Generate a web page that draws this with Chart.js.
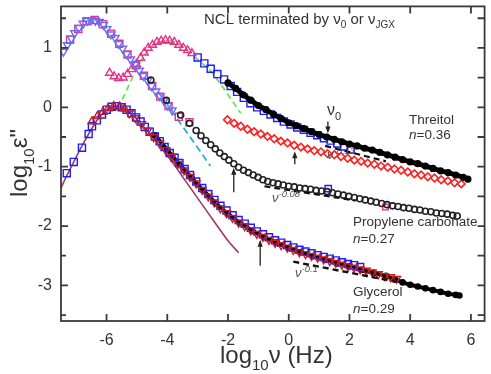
<!DOCTYPE html>
<html><head><meta charset="utf-8">
<script src="https://cdn.jsdelivr.net/npm/chart.js@4.4.1/dist/chart.umd.min.js"></script>
<style>html,body{margin:0;padding:0;background:#fff}canvas{display:block}</style>
</head><body>
<canvas id="c" width="491" height="374"></canvas>
<script>
// ---------- tick values ----------
const xTicks = [-6,-4,-2,0,2,4,6];
const yTicks = [-3.5,-3,-2.5,-2,-1.5,-1,-0.5,0,0.5,1,1.5];

// ---------- Propylene carbonate ----------
const pcTriX = [-7.42,-7.29,-7.16,-7.05,-6.91,-6.77,-6.64,-6.51,-6.37,-6.24,-6.10,-5.99,-5.86,-5.72,-5.60,-5.47,-5.34,-5.21,-5.07,-4.92,-4.79,-4.65,-4.52,-4.38,-4.25,-4.11,-3.98,-3.84];
const pcTriY = [0.94,1.05,1.16,1.25,1.34,1.41,1.46,1.47,1.46,1.44,1.39,1.32,1.23,1.17,1.07,0.99,0.90,0.81,0.72,0.62,0.53,0.45,0.36,0.27,0.19,0.11,0.03,-0.05];
const pcSqX = [-7.20,-6.93,-6.66,-6.39,-6.12,-5.85,-5.58,-5.31,-5.04,-4.77,-4.50,-4.23,-3.96,-3.62,-3.27];
const pcSqY = [1.14,1.32,1.45,1.47,1.40,1.24,1.07,0.89,0.71,0.53,0.36,0.18,0.02,-0.16,-0.25];
const pcCircX = [-4.54,-4.03,-3.56,-3.27,-3.05,-2.89,-2.73,-2.57,-2.42,-2.27,-2.12,-1.97,-1.81,-1.65,-1.49,-1.33,-1.17,-1.01,-0.85,-0.69,-0.52,-0.35,-0.18,
  0.00,0.18,0.36,0.54,0.72,0.90,1.08,1.26,1.44,1.62,1.80,1.98,2.16,2.34,2.52,2.70,2.88,3.06,3.24,3.42,3.60,3.78,3.96,4.14,4.32,4.50,4.68,4.86,5.04,5.22,5.40,5.55];
const pcCircY = [0.46,0.12,-0.13,-0.27,-0.39,-0.48,-0.56,-0.63,-0.70,-0.77,-0.83,-0.89,-0.95,-1.01,-1.06,-1.10,-1.14,-1.18,-1.22,-1.25,-1.27,-1.29,-1.31,
  -1.33,-1.34,-1.36,-1.37,-1.38,-1.40,-1.41,-1.42,-1.44,-1.46,-1.48,-1.50,-1.52,-1.54,-1.56,-1.58,-1.60,-1.62,-1.64,-1.66,-1.67,-1.69,-1.70,-1.72,-1.73,-1.75,-1.76,-1.78,-1.79,-1.80,-1.82,-1.83];
const pcFitX = [-4.30,-4.00,-3.61,-3.00,-2.58];
const pcFitY = [0.26,0.05,-0.24,-0.68,-0.99];
const pcBlueX = [1.30], pcBlueY = [-1.37];
const pcPinkX = [3.19], pcPinkY = [-1.68];

// ---------- Threitol ----------
const thrTriX = [-5.90,-5.75,-5.60,-5.45,-5.31,-5.17,-5.02,-4.88,-4.76,-4.63,-4.49,-4.34,-4.20,-4.06,-3.92,-3.77,-3.62,-3.47,-3.33,-3.19];
const thrTriY = [0.58,0.52,0.49,0.50,0.56,0.64,0.73,0.83,0.92,1.00,1.05,1.10,1.12,1.13,1.12,1.10,1.05,1.00,0.96,0.91];
const thrSqX = [-3.00,-2.78,-2.57,-2.35,-2.13,-1.91,-1.70,-1.48,-1.26,-1.04,-0.82,-0.60,-0.38,-0.16,0.06,0.28,0.50,0.72,0.94,1.16,1.38,1.60,1.82,2.04];
const thrSqY = [0.84,0.74,0.65,0.56,0.47,0.36,0.26,0.16,0.07,0.00,-0.06,-0.12,-0.18,-0.24,-0.29,-0.34,-0.38,-0.43,-0.47,-0.52,-0.56,-0.61,-0.66,-0.71];
const thrDotX = [-2.00,-1.75,-1.50,-1.25,-1.00,-0.75,-0.50,-0.25,0.00,0.25,0.50,0.75,1.00,1.25,1.50,1.75,2.00,2.25,2.50,2.75,3.00,3.25,3.50,3.75,4.00,4.25,4.50,4.75,5.00,5.25,5.50,5.75,5.90];
const thrDotY = [0.41,0.32,0.21,0.12,0.03,-0.04,-0.12,-0.19,-0.26,-0.31,-0.36,-0.41,-0.46,-0.50,-0.54,-0.58,-0.62,-0.65,-0.69,-0.72,-0.76,-0.80,-0.84,-0.88,-0.92,-0.95,-0.99,-1.03,-1.07,-1.10,-1.14,-1.18,-1.21];
const thrFitX = [-5.62,-5.30,-5.00,-4.75,-4.50,-4.25,-4.00,-3.75,-3.50,-3.20,-2.90,-2.57,-2.30,-2.02,-1.58];
const thrFitY = [-0.02,0.33,0.66,0.88,1.03,1.10,1.13,1.10,1.02,0.89,0.76,0.61,0.43,0.23,-0.10];
const dmX = [-2.02,-1.80,-1.58,-1.36,-1.14,-0.92,-0.70,-0.48,-0.26,-0.04,0.18,0.40,0.62,0.84,1.06,1.28,1.50,1.72,1.94,2.16,2.38,2.60,2.82,3.04,3.26,3.48,3.70,3.92,4.14,4.36,4.58,4.80,5.02,5.24,5.46,5.68];
const dmY = [-0.21,-0.27,-0.32,-0.37,-0.41,-0.45,-0.49,-0.53,-0.57,-0.60,-0.64,-0.67,-0.70,-0.73,-0.75,-0.78,-0.80,-0.83,-0.86,-0.89,-0.91,-0.94,-0.96,-0.99,-1.01,-1.04,-1.06,-1.09,-1.12,-1.14,-1.17,-1.19,-1.22,-1.24,-1.27,-1.29];

// ---------- Glycerol ----------
const glySqX = [-7.31,-7.08,-6.81,-6.59,-6.48,-6.32,-6.15,-5.99,-5.83,-5.66,-5.50,-5.34,-5.18,-5.03,-4.88,-4.74,-4.58,-4.41,-4.25,-4.09,-3.92,-3.76,-3.60,-3.43,
  -3.25,-3.05,-2.85,-2.65,-2.45,-2.25,-2.05,-1.85,-1.65,-1.45,-1.25,-1.05,-0.85,-0.65,-0.45,-0.25,-0.05,0.15,0.35,0.55,0.75,0.95,1.15,1.35,1.55,1.75,1.95,2.15,2.35];
const glySqY = [-1.11,-0.92,-0.68,-0.45,-0.32,-0.22,-0.12,-0.04,0.01,0.02,0.00,-0.04,-0.10,-0.17,-0.24,-0.33,-0.41,-0.49,-0.57,-0.67,-0.77,-0.85,-0.94,-1.04,
  -1.14,-1.25,-1.36,-1.46,-1.56,-1.66,-1.74,-1.82,-1.90,-1.96,-2.03,-2.09,-2.14,-2.19,-2.24,-2.28,-2.32,-2.36,-2.40,-2.43,-2.46,-2.49,-2.52,-2.55,-2.58,-2.61,-2.64,-2.66,-2.69];
const glyUpX = [-6.48,-6.30,-6.12,-5.95,-5.76,-5.57,-5.41];
const glyUpY = [-0.24,-0.15,-0.08,-0.02,0.02,0.01,-0.02];
const glyDnX = [-5.25,-5.05,-4.85,-4.65,-4.45,-4.25,-4.05,-3.85,-3.65,-3.45,-3.25,-3.05,-2.85,-2.65,-2.45,-2.25,-2.05,-1.85,-1.65,-1.45,-1.25,-1.05,-0.85,-0.65,-0.45,-0.25,-0.05,
  0.15,0.35,0.55,0.75,0.95,1.15,1.35,1.55,1.75,1.95,2.15,2.35,2.55,2.75,2.95,3.15,3.35,3.55];
const glyDnY = [-0.10,-0.18,-0.28,-0.39,-0.50,-0.61,-0.72,-0.83,-0.95,-1.06,-1.17,-1.28,-1.39,-1.50,-1.60,-1.70,-1.78,-1.86,-1.94,-2.00,-2.07,-2.13,-2.18,-2.23,-2.28,-2.32,-2.36,
  -2.40,-2.44,-2.47,-2.50,-2.53,-2.56,-2.59,-2.62,-2.65,-2.68,-2.70,-2.73,-2.75,-2.78,-2.81,-2.84,-2.86,-2.89];
const glyDotX = [-4.40,-4.00,-3.60,-3.20,-2.80,-2.40,-2.00,-1.60,-1.20,-0.80,-0.40,0.00,0.40,0.80,1.20,1.60,2.00,2.40,2.80,3.20,3.50,3.75,4.00,4.25,4.50,4.75,5.00,5.25,5.50,5.62];
const glyDotY = [-0.47,-0.72,-0.96,-1.19,-1.41,-1.62,-1.80,-1.95,-2.08,-2.19,-2.28,-2.37,-2.44,-2.51,-2.57,-2.63,-2.68,-2.74,-2.79,-2.84,-2.90,-2.95,-2.99,-3.02,-3.05,-3.08,-3.11,-3.14,-3.16,-3.17];
const glyFitX = [-7.50,-7.30,-7.10,-6.90,-6.70,-6.50,-6.30,-6.10,-5.90,-5.70,-5.50,-5.30,-5.10,-4.90,-4.60,-4.30,-4.00,-3.70,-3.40,-3.00,-2.60,-2.24,-2.00,-1.65];
const glyFitY = [-1.36,-1.14,-0.94,-0.74,-0.55,-0.37,-0.21,-0.09,-0.01,0.02,0.00,-0.06,-0.15,-0.26,-0.43,-0.62,-0.81,-1.02,-1.24,-1.53,-1.82,-2.08,-2.25,-2.45];

// ---------- power-law guide lines ----------
const pl13X = [1.20,3.20], pl13Y = [-0.65,-0.91];
const pl08X = [-0.80,2.20], pl08Y = [-1.33,-1.57];
const pl10X = [0.15,3.55], pl10Y = [-2.60,-2.94];

// ---------- arrows (x, from, to) ----------
const arrowX = [1.29, 0.20, -1.81, -0.94];
const arrowFrom = [-0.24, -0.96, -1.43, -2.67];
const arrowTo = [-0.44, -0.74, -1.02, -2.23];

const FONT = '"Liberation Sans", Arial, Helvetica, sans-serif';
Chart.defaults.font.family = FONT;

function pts(xs, ys) { return xs.map((x, i) => ({x, y: ys[i]})); }
const T = 'rgba(0,0,0,0)';
function markers(xs, ys, style, color, r, order, extra) {
  return Object.assign({data: pts(xs, ys), pointStyle: style, pointRadius: r, pointBorderColor: color,
    pointBackgroundColor: T, pointBorderWidth: 1.4, borderColor: color, showLine: false, order}, extra || {});
}
function line(xs, ys, color, w, dash, order, extra) {
  return Object.assign({data: pts(xs, ys), showLine: true, borderColor: color, borderWidth: w, borderDash: dash,
    pointRadius: 0, order, fill: false}, extra || {});
}

const datasets = [
  line(pl13X, pl13Y, '#111', 2.2, [6, 4], 0),
  line(pl08X, pl08Y, '#111', 2.2, [6, 4], 0),
  line(pl10X, pl10Y, '#111', 2.4, [6, 4], 0),
  Object.assign(line(thrDotX, thrDotY, '#000', 5, [], 1), {pointRadius: 3.6, pointStyle: 'circle', pointBackgroundColor: '#000', pointBorderColor: '#000', pointBorderWidth: 0}),
  markers(glyUpX, glyUpY, 'triangle', '#c81e1e', 4.6, 2),
  markers(glyDnX, glyDnY, 'triangle', '#c81e1e', 4.6, 2, {pointRotation: 180}),
  markers(pcCircX, pcCircY, 'circle', '#222', 3.0, 2, {pointBorderWidth: 1.6}),
  markers(pcTriX, pcTriY, 'triangle', '#6a6cf2', 4.6, 3, {pointRotation: 180}),
  markers(thrTriX, thrTriY, 'triangle', '#e4338a', 4.6, 3),
  markers(dmX, dmY, 'rectRot', '#ff1f1f', 3.8, 3, {pointBorderWidth: 1.6}),
  markers(thrSqX, thrSqY, 'rect', '#1c1cff', 5, 4),
  markers(glySqX, glySqY, 'rect', '#1c1cff', 5, 4),
  markers(pcBlueX, pcBlueY, 'rect', '#1c1cff', 4.5, 4),
  markers(pcPinkX, pcPinkY, 'rect', '#e4338a', 4, 4),
  Object.assign(line(glyDotX, glyDotY, '#000', 4, [], 5), {pointRadius: 3.3, pointStyle: 'circle', pointBackgroundColor: '#000', pointBorderColor: '#000', pointBorderWidth: 0}),
  markers(pcSqX, pcSqY, 'rect', '#e4338a', 5, 5),
  line(thrFitX, thrFitY, '#6ee04a', 1.8, [6, 4], 6, {cubicInterpolationMode: 'monotone'}),
  line(pcFitX, pcFitY, '#2aa8e0', 1.8, [7, 4], 6, {cubicInterpolationMode: 'monotone'}),
  line(glyFitX, glyFitY, '#9a3a6a', 1.6, [], 6, {cubicInterpolationMode: 'monotone'})
];

function rich(ctx, parts, x, y) {
  let cx = x;
  for (const p of parts) {
    ctx.font = (p.i ? 'italic ' : '') + p.s + 'px ' + FONT;
    ctx.fillText(p.t, cx, y + (p.dy || 0));
    cx += ctx.measureText(p.t).width;
  }
}

const deco = {
  id: 'deco',
  afterDatasetsDraw(chart) {
    const {ctx, scales: {x, y}} = chart;
    ctx.save();
    ctx.strokeStyle = '#222'; ctx.fillStyle = '#222'; ctx.lineWidth = 1.3;
    arrowX.forEach((v, i) => {
      const px = x.getPixelForValue(v), p0 = y.getPixelForValue(arrowFrom[i]), p1 = y.getPixelForValue(arrowTo[i]);
      const d = p1 < p0 ? 1 : -1;
      ctx.beginPath(); ctx.moveTo(px, p0); ctx.lineTo(px, p1 + d * 4); ctx.stroke();
      ctx.beginPath(); ctx.moveTo(px, p1); ctx.lineTo(px - 2.6, p1 + d * 7); ctx.lineTo(px + 2.6, p1 + d * 7); ctx.closePath(); ctx.fill();
    });
    ctx.restore();
  },
  afterDraw(chart) {
    const {ctx, chartArea: a, scales: {x, y}} = chart;
    ctx.save();
    ctx.strokeStyle = '#3a3a3a'; ctx.lineWidth = 1.8;
    ctx.strokeRect(a.left, a.top, a.right - a.left, a.bottom - a.top);
    ctx.beginPath();
    xTicks.forEach(v => {
      const px = x.getPixelForValue(v);
      ctx.moveTo(px, a.bottom); ctx.lineTo(px, a.bottom - 7);
      ctx.moveTo(px, a.top); ctx.lineTo(px, a.top + 7);
    });
    yTicks.forEach(v => {
      const py = y.getPixelForValue(v);
      const L = Number.isInteger(v) ? 7 : 5;
      ctx.moveTo(a.left, py); ctx.lineTo(a.left + L, py);
      ctx.moveTo(a.right, py); ctx.lineTo(a.right - 7, py);
    });
    ctx.stroke();

    ctx.fillStyle = '#333'; ctx.textBaseline = 'alphabetic'; ctx.textAlign = 'left';
    rich(ctx, [{t: 'log', s: 24}, {t: '10', s: 15, dy: 7}, {t: 'ν', s: 24}, {t: ' (Hz)', s: 24}], 220, 363);
    ctx.save();
    ctx.translate(27, 197); ctx.rotate(-Math.PI / 2);
    rich(ctx, [{t: 'log', s: 24}, {t: '10', s: 15, dy: 7}, {t: 'ε', s: 24}, {t: '"', s: 24}], 0, 0);
    ctx.restore();
    rich(ctx, [{t: 'NCL terminated by ', s: 15}, {t: 'ν', s: 15}, {t: '0', s: 10, dy: 4}, {t: ' or ', s: 15}, {t: 'ν', s: 15}, {t: 'JGX', s: 10, dy: 4}], 204, 24);
    rich(ctx, [{t: 'Threitol', s: 13.5}], 409, 124);
    rich(ctx, [{t: 'n', s: 13.5, i: true}, {t: '=0.36', s: 13.5}], 409, 139);
    rich(ctx, [{t: 'Propylene carbonate', s: 13.5}], 353, 226);
    rich(ctx, [{t: 'n', s: 13.5, i: true}, {t: '=0.27', s: 13.5}], 353, 243);
    rich(ctx, [{t: 'Glycerol', s: 13.5}], 353, 296);
    rich(ctx, [{t: 'n', s: 13.5, i: true}, {t: '=0.29', s: 13.5}], 353, 313);
    rich(ctx, [{t: 'ν', s: 16}, {t: '0', s: 11, dy: 5}], 327, 115);
    ctx.fillStyle = '#555';
    rich(ctx, [{t: 'ν', s: 13, i: true}, {t: '-0.13', s: 9.5, i: true, dy: -5}], 327, 159);
    rich(ctx, [{t: 'ν', s: 13, i: true}, {t: '-0.08', s: 9.5, i: true, dy: -5}], 272, 202);
    rich(ctx, [{t: 'ν', s: 13, i: true}, {t: '-0.1', s: 9.5, i: true, dy: -5}], 295, 277);
    ctx.restore();
  }
};

function noPad(s) { s.paddingTop = 0; s.paddingBottom = 0; s.paddingLeft = 0; s.paddingRight = 0; }

new Chart(document.getElementById('c'), {
  type: 'scatter',
  data: {datasets},
  options: {
    responsive: false, animation: false, events: [],
    layout: {padding: {top: 1, right: 3, left: 0, bottom: 0}},
    plugins: {legend: {display: false}, tooltip: {enabled: false}},
    elements: {line: {tension: 0}},
    scales: {
      x: {type: 'linear', min: -7.5, max: 6.45,
        grid: {display: false, drawTicks: false}, border: {display: false},
        afterBuildTicks: s => { s.ticks = xTicks.map(v => ({value: v})); },
        afterFit: s => { s.height = 53; noPad(s); },
        ticks: {padding: 10, font: {size: 16}, color: '#333', maxRotation: 0, autoSkip: false, callback: v => String(v)}},
      y: {type: 'linear', min: -3.6, max: 1.7,
        grid: {display: false, drawTicks: false}, border: {display: false},
        afterBuildTicks: s => { s.ticks = yTicks.map(v => ({value: v})); },
        afterFit: s => { s.width = 61; noPad(s); },
        ticks: {padding: 9, font: {size: 16}, color: '#333', autoSkip: false, callback: v => Number.isInteger(v) ? String(v) : ''}}
    }
  },
  plugins: [deco]
});
</script>
</body></html>
